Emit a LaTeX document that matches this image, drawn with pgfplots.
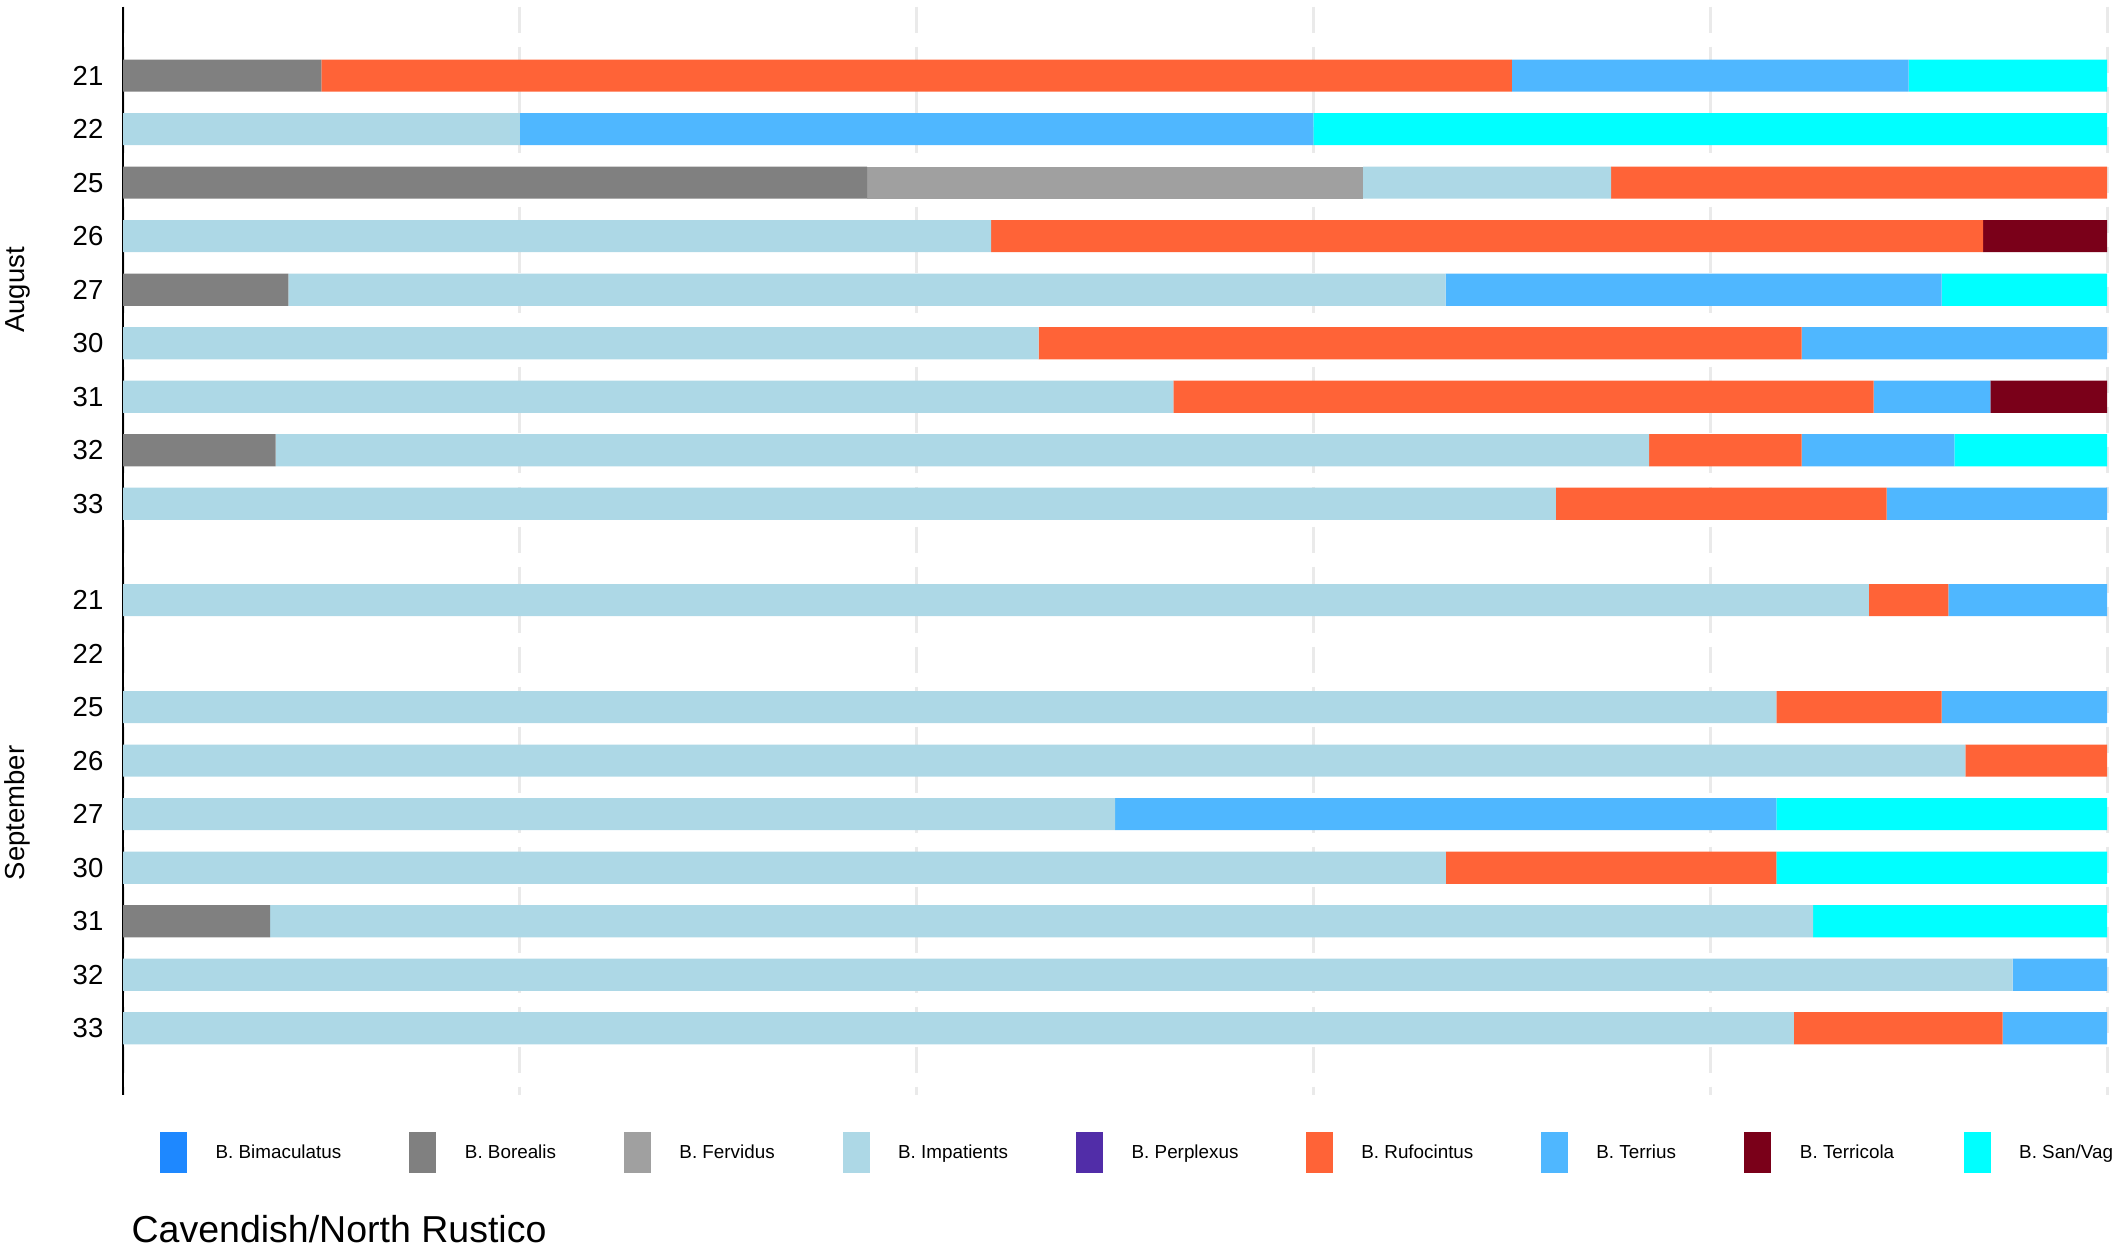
\documentclass[border=0pt]{standalone}
\usepackage{pgfplots}
\pgfplotsset{compat=1.18}
\usepackage{pgfplotstable}
\usepackage{fontspec}
\setmainfont{Liberation Sans}
\newlength\pxu
\setlength\pxu{0.3bp}
\definecolor{cbim}{HTML}{1E88FF}
\definecolor{cbor}{HTML}{808080}
\definecolor{cfer}{HTML}{A0A0A0}
\definecolor{cimp}{HTML}{ADD8E6}
\definecolor{cper}{HTML}{512DA8}
\definecolor{cruf}{HTML}{FF6337}
\definecolor{cter}{HTML}{4FB7FF}
\definecolor{ctcl}{HTML}{7A0019}
\definecolor{csan}{HTML}{00FFFF}
\definecolor{gridc}{HTML}{EAEAEA}

\pgfplotstableread{
y    bim bor    fer  imp    per ruf    ter    tcl    san
0    0   0.1    0    0      0   0.6    0.2    0      0.1
1    0   0      0    0.2    0   0      0.4    0      0.4
2    0   0.375  0.25 0.125  0   0.25   0      0      0
3    0   0      0    0.4375 0   0.5    0      0.0625 0
4    0   0.0833 0    0.5833 0   0      0.25   0      0.0834
5    0   0      0    0.4615 0   0.3846 0.1539 0      0
6    0   0      0    0.5294 0   0.3530 0.0588 0.0588 0
7    0   0.0769 0    0.6923 0   0.0769 0.0769 0      0.0770
8    0   0      0    0.7222 0   0.1667 0.1111 0      0
9.8  0   0      0    0.88   0   0.04   0.08   0      0
10.8 0   0      0    0      0   0      0      0      0
11.8 0   0      0    0.8333 0   0.0833 0.0834 0      0
12.8 0   0      0    0.9286 0   0.0714 0      0      0
13.8 0   0      0    0.5    0   0      0.3333 0      0.1667
14.8 0   0      0    0.6667 0   0.1667 0      0      0.1666
15.8 0   0.0741 0    0.7778 0   0      0      0      0.1481
16.8 0   0      0    0.9524 0   0      0.0476 0      0
17.8 0   0      0    0.8421 0   0.1053 0.0526 0      0
}\data

\newcommand\legkey[3]{%
  \fill[#2] (#1\pxu,76.3\pxu) rectangle ({#1\pxu+27\pxu},117\pxu);
  \node[anchor=base west, inner sep=0pt, font=\fontsize{5.65bp}{7bp}\selectfont] at ({#1\pxu+55\pxu},90.5\pxu) {#3};}

\begin{document}
\begin{tikzpicture}
\path[use as bounding box] (0,0) rectangle (2119\pxu,1249\pxu);
\begin{axis}[
  at={(123\pxu,154.4\pxu)}, anchor=south west,
  scale only axis, width=1984\pxu, height=1088\pxu,
  xbar stacked, bar width=0.6,
  xmin=0, xmax=1, ymin=-1.29, ymax=19.04, y dir=reverse,
  axis line style={draw=none},
  tick style={draw=none}, major tick length=0pt,
  xtick={0,0.2,0.4,0.6,0.8,1}, xticklabels={,,,,,},
  xmajorgrids,
  grid style={color=gridc, line width=3\pxu, dash pattern=on 26\pxu off 14\pxu},
  ytick={0,1,2,3,4,5,6,7,8,9.8,10.8,11.8,12.8,13.8,14.8,15.8,16.8,17.8},
  yticklabels={21,22,25,26,27,30,31,32,33,21,22,25,26,27,30,31,32,33},
  yticklabel style={anchor=east, inner sep=0pt, xshift=-19\pxu, font=\fontsize{8.25bp}{9bp}\selectfont},
  every axis plot/.append style={draw=none},
  clip=false,
]
\addplot[fill=cbim, draw=none] table[x=bim,y=y]{\data};
\addplot[fill=cbor, draw=none] table[x=bor,y=y]{\data};
\addplot[fill=cfer, draw=none] table[x=fer,y=y]{\data};
\addplot[fill=cimp, draw=none] table[x=imp,y=y]{\data};
\addplot[fill=cper, draw=none] table[x=per,y=y]{\data};
\addplot[fill=cruf, draw=none] table[x=ruf,y=y]{\data};
\addplot[fill=cter, draw=none] table[x=ter,y=y]{\data};
\addplot[fill=ctcl, draw=none] table[x=tcl,y=y]{\data};
\addplot[fill=csan, draw=none] table[x=san,y=y]{\data};
\draw[black, line width=2\pxu] (axis cs:0,-1.29) -- (axis cs:0,19.04);
\end{axis}
\legkey{160}{cbim}{B. Bimaculatus}
\legkey{409.3}{cbor}{B. Borealis}
\legkey{623.8}{cfer}{B. Fervidus}
\legkey{842.5}{cimp}{B. Impatients}
\legkey{1076}{cper}{B. Perplexus}
\legkey{1305.7}{cruf}{B. Rufocintus}
\legkey{1540.7}{cter}{B. Terrius}
\legkey{1744.3}{ctcl}{B. Terricola}
\legkey{1963.5}{csan}{B. San/Vag}
\node[rotate=90, inner sep=0pt, font=\fontsize{8.25bp}{9bp}\selectfont] at (17.6\pxu,959\pxu) {August};
\node[rotate=90, inner sep=0pt, font=\fontsize{8.25bp}{9bp}\selectfont] at (17.6\pxu,436\pxu) {September};
\node[anchor=base west, inner sep=0pt, font=\fontsize{11.25bp}{13bp}\selectfont] at (131\pxu,7\pxu) {Cavendish/North Rustico};
\end{tikzpicture}
\end{document}
